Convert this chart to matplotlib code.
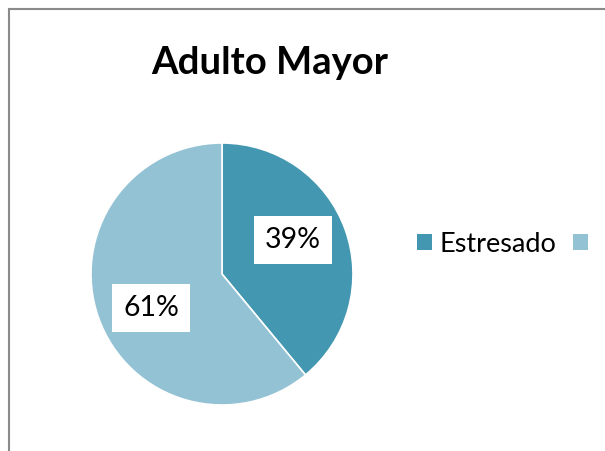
import numpy as np
import matplotlib.pyplot as plt
from matplotlib.lines import Line2D
from matplotlib.patches import Patch

# stress share, older adults group
labels = ['Estresado', '']
values = [39, 61]
colors = ['#4397b0', '#93c2d4']
title = 'Adulto Mayor'

plt.rcParams['font.family'] = ['Lato', 'DejaVu Sans']

W, H = 605, 451
fig = plt.figure(figsize=(W / 100, H / 100), dpi=100)
fig.patch.set_facecolor('white')

# pie centred at (222, 274) px, radius 131 px
cx, cy, r = 222, 274, 131
ax = fig.add_axes([(cx - r) / W, (H - cy - r) / H, 2 * r / W, 2 * r / H])
wedges, texts, autotexts = ax.pie(
    values, colors=colors, startangle=90, counterclock=False,
    autopct='%1.0f%%', pctdistance=0.6,
    wedgeprops=dict(edgecolor='white', linewidth=1.2),
    textprops=dict(fontsize=20.5, color='black'))

# labels sit a little anticlockwise of each wedge's middle
for w, t in zip(wedges, autotexts):
    ang = np.deg2rad((w.theta1 + w.theta2) / 2 + 6)
    t.set_position((0.6 * np.cos(ang), 0.6 * np.sin(ang)))
    t.set_bbox(dict(boxstyle='square,pad=0.38', facecolor='white', edgecolor='none'))
ax.set_xlim(-1, 1)
ax.set_ylim(-1, 1)
ax.set_aspect('equal')
ax.axis('off')

fig.text(270 / W, 1 - 74 / H, title, ha='center', va='baseline',
         fontsize=27.5, fontweight='bold')

handles = [Patch(facecolor=c, edgecolor='none') for c in colors]
fig.legend(handles, labels, loc='center left', ncol=2,
           bbox_to_anchor=(398 / W, 1 - 244 / H), frameon=False,
           fontsize=19.5, handlelength=0.55, handleheight=0.55,
           handletextpad=0.3, columnspacing=0.6, borderpad=0.2)

# chart area border, only left and top edges visible
fig.add_artist(Line2D([8.5 / W, 8.5 / W], [0, 1 - 8.5 / H], color='#8a8a8a', lw=1.5,
                      transform=fig.transFigure))
fig.add_artist(Line2D([8.5 / W, 1], [1 - 8.5 / H, 1 - 8.5 / H], color='#8a8a8a', lw=1.5,
                      transform=fig.transFigure))

fig.savefig('out.png', dpi=100)
